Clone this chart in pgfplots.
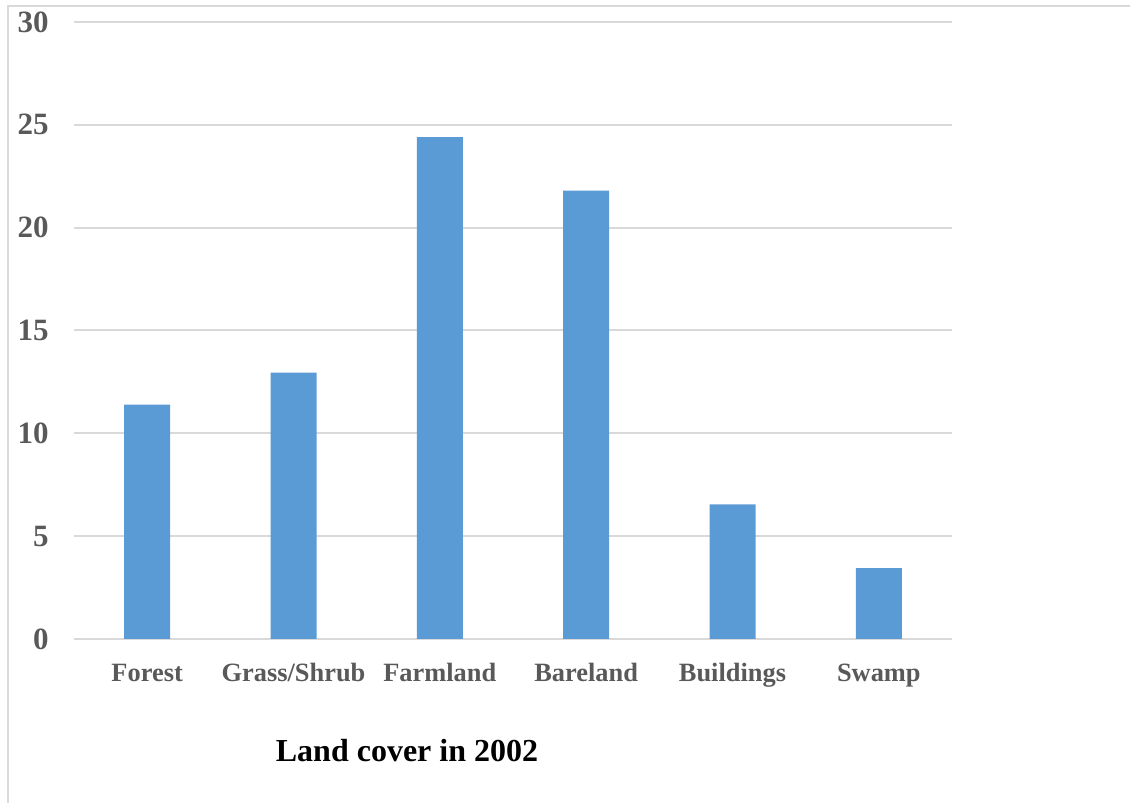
\documentclass[border=0pt]{standalone}
\usepackage{fontspec}
\setmainfont{Liberation Serif}
\usepackage{pgfplots}
\pgfplotsset{compat=1.18}
\definecolor{barblue}{HTML}{5B9BD5}
\definecolor{tickgray}{HTML}{595959}
\definecolor{gridgray}{HTML}{D9D9D9}
\begin{document}
\begin{tikzpicture}
\useasboundingbox (0pt,0pt) rectangle (565pt,401.5pt);
\draw[gridgray, line width=1pt] (4pt,0pt) -- (4pt,398.5pt) -- (565pt,398.5pt);
\begin{axis}[
  at={(37pt,82pt)}, anchor=south west,
  scale only axis, width=439pt, height=308.5pt,
  xmin=-0.5, xmax=5.5, ymin=0, ymax=30,
  enlargelimits=false,
  ytick={0,5,10,15,20,25,30},
  xtick={0,1,2,3,4,5},
  xticklabels={Forest,Grass/Shrub,Farmland,Bareland,Buildings,Swamp},
  ymajorgrids, grid style={gridgray, line width=1pt},
  axis line style={draw=none},
  major tick length=0pt,
  ybar, bar width=23pt,
  /pgf/number format/assume math mode=true,
  yticklabel style={anchor=east, inner sep=0pt, xshift=-12.5pt, text=tickgray, font=\bfseries\fontsize{15.5}{18}\selectfont},
  xticklabel style={anchor=base, inner sep=0pt, yshift=-21.5pt, text=tickgray, font=\bfseries\fontsize{13.2}{16}\selectfont},
]
\addplot[fill=barblue, draw=none] coordinates {(0,11.4) (1,12.95) (2,24.4) (3,21.8) (4,6.55) (5,3.45)};
\end{axis}
\node[font=\bfseries\fontsize{16}{19}\selectfont, anchor=base] at (203.5pt,20.5pt) {Land cover in 2002};
\end{tikzpicture}
\end{document}
